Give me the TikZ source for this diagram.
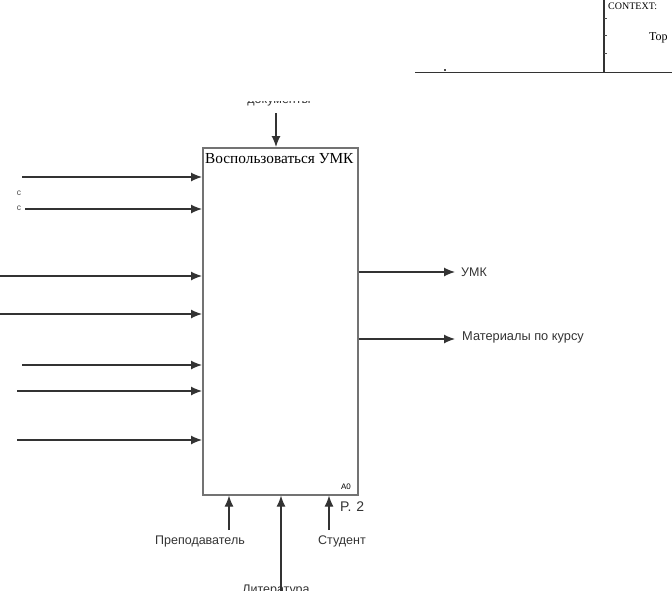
\documentclass[tikz,border=0pt]{standalone}
\usepackage{fontspec}
\setmainfont{Liberation Serif}
\newfontfamily\arialf{Liberation Sans}
\usetikzlibrary{arrows.meta}
\begin{document}
\begin{tikzpicture}[x=1pt,y=-1pt,
  arr/.style={draw=black!80, line width=1.2pt, -{Latex[length=11pt,width=9pt]}},
  lab/.style={font=\arialf\fontsize{12.5}{14}\selectfont, text=black!80, inner sep=0pt},
  tinylab/.style={font=\arialf\fontsize{8.5}{9}\selectfont, text=black!70, inner sep=0pt}]
\useasboundingbox (0,0) rectangle (672,590);
% top-right frame fragment
\draw[line width=1pt, black!80] (415,72) -- (672,72);
\draw[line width=2.2pt, black!80] (604,0) -- (604,72);
\foreach \ty in {18,35,53} \draw[line width=0.6pt, black!70] (604,\ty) -- (607,\ty);
\fill[black!70] (444,69) rectangle (446,71);
\node[anchor=west, inner sep=0pt, font=\fontsize{10}{11}\selectfont] (ctx) at (608,6) {CONTEXT:};
\node[anchor=west, inner sep=0pt, font=\fontsize{12}{13}\selectfont] (top) at (649,38) {Top};
% main box
\node[draw=black!55, line width=1.6pt, minimum width=155pt, minimum height=347pt, anchor=north west, inner sep=0pt] (box) at (202,147) {};
\node[anchor=north west, inner sep=0pt, font=\fontsize{15.3}{16}\selectfont] (title) at (205,153) {Воспользоваться УМК};
\node[anchor=south east, inner sep=0pt, font=\arialf\fontsize{8}{9}\selectfont] (a0) at (351,490) {A0};
\node[lab, anchor=west, font=\arialf\fontsize{14}{15}\selectfont] (p2) at (340,507) {P.\,\,2};
% control (top)
\coordinate (docs) at (276,113);
\draw[arr] (docs) -- (docs |- box.north);
\begin{scope}
\clip (200,101) rectangle (360,112);
\node[lab] (doclab) at (279,101) {документы};
\end{scope}
% inputs (left)
\coordinate (l1) at (22,177);
\coordinate (l2) at (25,209);
\coordinate (l3) at (0,276);
\coordinate (l4) at (0,314);
\coordinate (l5) at (22,365);
\coordinate (l6) at (17,391);
\coordinate (l7) at (17,440);
\foreach \c in {l1,l2,l3,l4,l5,l6,l7} \draw[arr] (\c) -- (box.west |- \c);
\node[tinylab] (c1) at (19,193) {с};
\node[tinylab] (c2) at (19,208) {с};
% outputs (right)
\coordinate (o1) at (455,272);
\coordinate (o2) at (455,339);
\draw[arr] (box.east |- o1) -- (o1);
\draw[arr] (box.east |- o2) -- (o2);
\node[lab, anchor=west] (umk) at (461,272) {УМК};
\node[lab, anchor=west, font=\arialf\fontsize{12.8}{14}\selectfont] (mat) at (462,337) {Материалы по курсу};
% mechanisms (bottom)
\coordinate (m1) at (229,530);
\coordinate (m2) at (281,596);
\coordinate (m3) at (329,530);
\foreach \c in {m1,m2,m3} \draw[arr] (\c) -- (\c |- box.south);
\node[lab] (prep) at (200,541) {Преподаватель};
\node[lab] (stud) at (342,541) {Студент};
\node[lab, anchor=north] (lit) at (276,585) {Литература};
\end{tikzpicture}
\end{document}
